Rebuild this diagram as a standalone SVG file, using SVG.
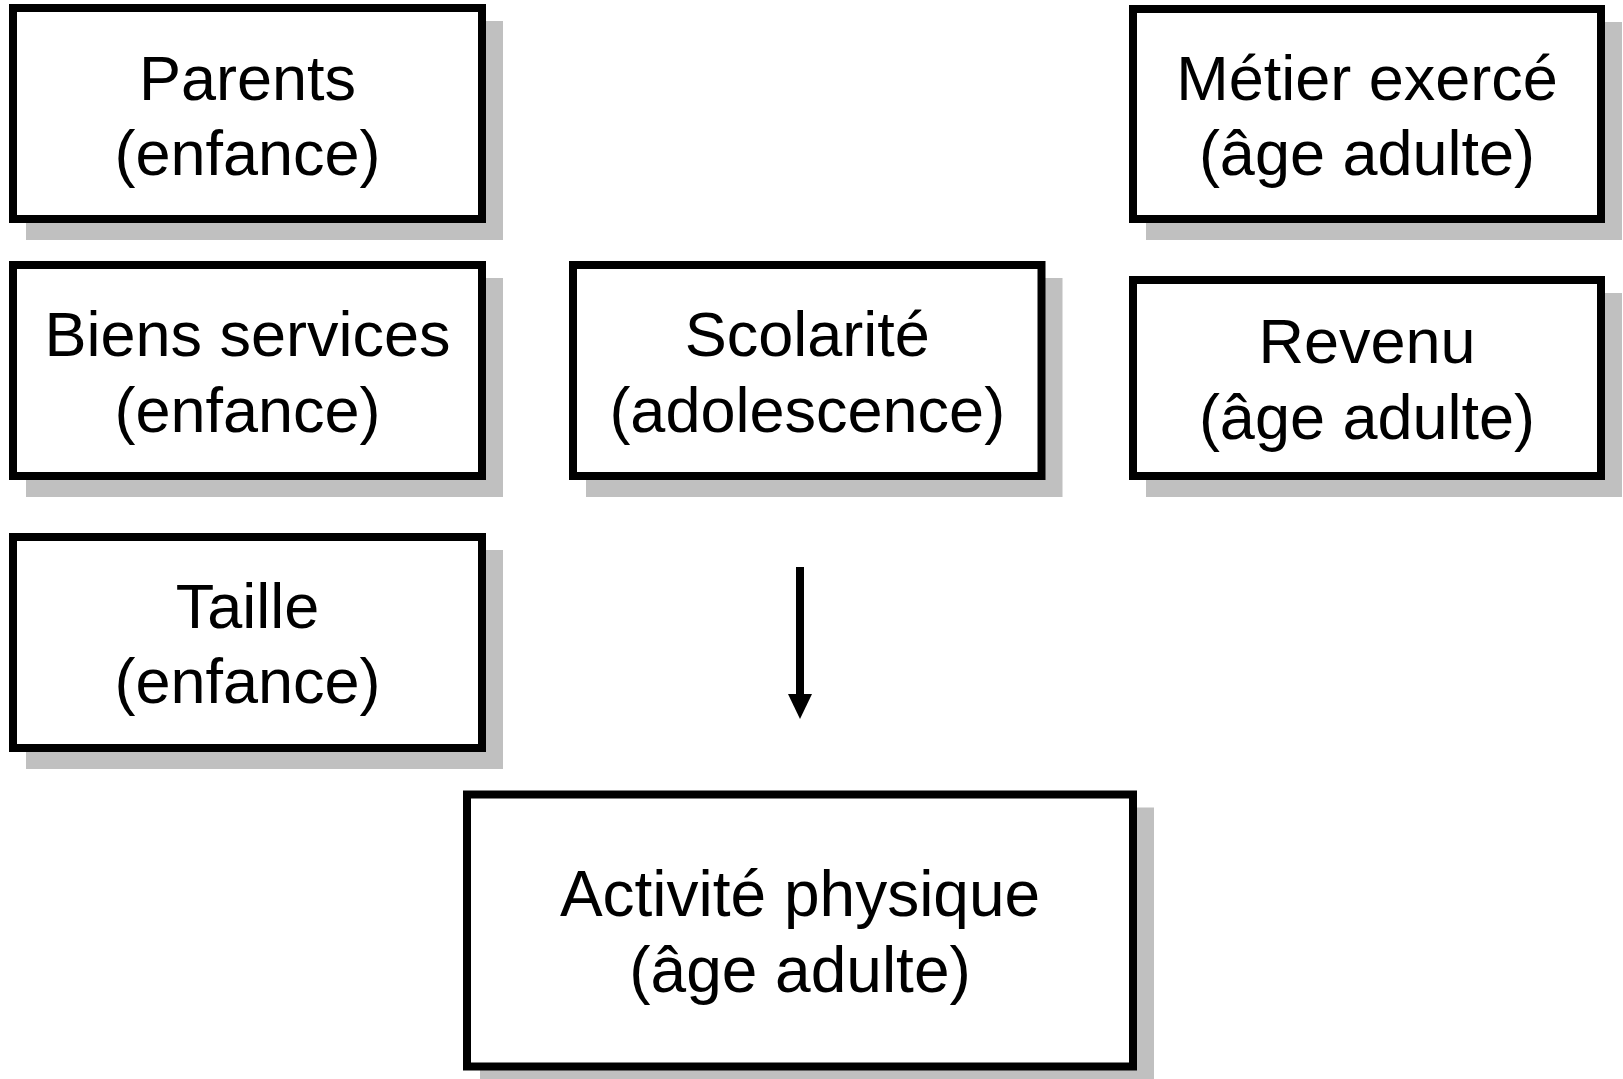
<svg xmlns="http://www.w3.org/2000/svg" width="1623" height="1079" viewBox="0 0 1623 1079">
  <defs>
    <style>
      .shadow { fill: #c0c0c0; }
      .box { fill: #ffffff; stroke: #000000; stroke-width: 8; }
      .label { font-family: "Liberation Sans", Arial, sans-serif; font-size: 63px; fill: #000000; text-anchor: middle; }
      .big { font-size: 64px; }
      .conn { stroke: #000000; stroke-width: 8; fill: none; }
    </style>
    <marker id="arrowhead" markerUnits="userSpaceOnUse" markerWidth="26" markerHeight="26" viewBox="0 0 26 26" refX="0" refY="12" orient="auto">
      <path d="M0,0 L25,12 L0,24 Z" fill="#000000"/>
    </marker>
  </defs>
  <rect width="1623" height="1079" fill="#ffffff"/>

  <g id="node-parents">
    <rect class="shadow" x="26" y="21" width="477" height="219"/>
    <rect class="box" x="13" y="8" width="469" height="211"/>
    <text class="label" x="247.5" y="100">Parents</text>
    <text class="label" x="247.5" y="175">(enfance)</text>
  </g>

  <g id="node-biens">
    <rect class="shadow" x="26" y="278" width="477" height="219"/>
    <rect class="box" x="13" y="265" width="469" height="211"/>
    <text class="label" x="247.5" y="356">Biens services</text>
    <text class="label" x="247.5" y="432">(enfance)</text>
  </g>

  <g id="node-taille">
    <rect class="shadow" x="26" y="550" width="477" height="219"/>
    <rect class="box" x="13" y="537" width="469" height="211"/>
    <text class="label" x="247.5" y="628">Taille</text>
    <text class="label" x="247.5" y="703">(enfance)</text>
  </g>

  <g id="node-scolarite">
    <rect class="shadow" x="586" y="278" width="476.5" height="219"/>
    <rect class="box" x="573" y="265" width="468.5" height="211"/>
    <text class="label" x="807.25" y="356">Scolarité</text>
    <text class="label" x="807.25" y="432">(adolescence)</text>
  </g>

  <g id="node-metier">
    <rect class="shadow" x="1146" y="22" width="476" height="218"/>
    <rect class="box" x="1133" y="9" width="468" height="210"/>
    <text class="label" x="1367" y="100">Métier exercé</text>
    <text class="label" x="1367" y="175">(âge adulte)</text>
  </g>

  <g id="node-revenu">
    <rect class="shadow" x="1146" y="293" width="476" height="204"/>
    <rect class="box" x="1133" y="280" width="468" height="196"/>
    <text class="label" x="1367" y="363">Revenu</text>
    <text class="label" x="1367" y="439">(âge adulte)</text>
  </g>

  <g id="node-activite">
    <rect class="shadow" x="480" y="807.5" width="674" height="280"/>
    <rect class="box" x="467" y="794.5" width="666" height="272"/>
    <text class="label big" x="800" y="916">Activité physique</text>
    <text class="label big" x="800" y="992">(âge adulte)</text>
  </g>

  <g id="connectors">
    <line class="conn" x1="800" y1="567" x2="800" y2="694" marker-end="url(#arrowhead)"/>
  </g>
</svg>
